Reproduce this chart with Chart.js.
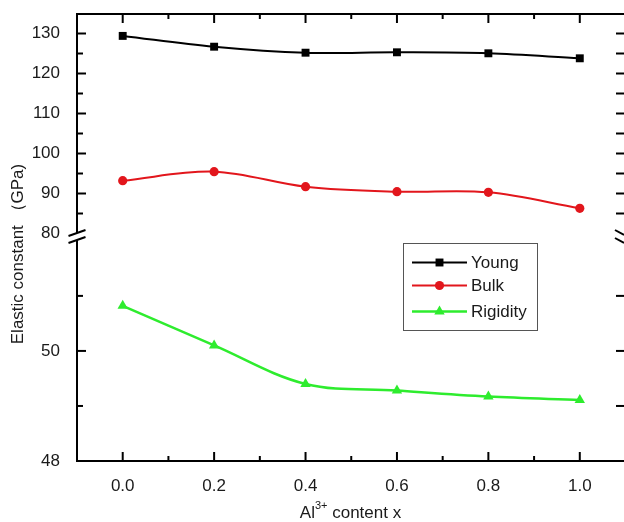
<!DOCTYPE html>
<html>
<head>
<meta charset="utf-8">
<script src="https://cdn.jsdelivr.net/npm/chart.js@4"></script>
<style>
  html, body { margin: 0; padding: 0; background: #fff; }
  #wrap { position: relative; width: 624px; height: 522px; }
</style>
</head>
<body>
<div id="wrap"><canvas id="chart" width="624" height="522"></canvas></div>
<script>
// values
const xValues  = [0.0, 0.2, 0.4, 0.6, 0.8, 1.0];
const young    = [129.4, 126.7, 125.2, 125.3, 125.05, 123.8];
const bulk     = [93.2, 95.45, 91.7, 90.45, 90.3, 86.3];
const rigidity = [50.82, 50.1, 49.4, 49.28, 49.17, 49.11];
const seriesNames = ['Young', 'Bulk', 'Rigidity'];

// axis ticks (upper part 80-135, lower part 48-52, broken in between)
const xTicks       = [0.0, 0.2, 0.4, 0.6, 0.8, 1.0];
const xMinorTicks  = [0.1, 0.3, 0.5, 0.7, 0.9];
const upperTicks   = [80, 90, 100, 110, 120, 130];
const upperMinor   = [85, 95, 105, 115, 125];
const lowerTicks   = [48, 50];
const lowerMinor   = [49, 51];

const FONT = '"Liberation Sans", Arial, Helvetica, sans-serif';
const TEXT = '#1a1a1a';
const COLORS = ['#000000', '#e2161c', '#2eec2e'];
const STYLES = ['rect', 'circle', 'triangle'];
const RADII = [5.6, 4.6, 6];

const toPoints = ys => xValues.map((x, i) => ({ x, y: ys[i] }));

function marker(ctx, style, x, y, r, color) {
  ctx.fillStyle = color;
  ctx.beginPath();
  if (style === 'rect') {
    const s = r * Math.SQRT1_2;
    ctx.rect(x - s, y - s, 2 * s, 2 * s);
  } else if (style === 'circle') {
    ctx.arc(x, y, r, 0, Math.PI * 2);
  } else {
    ctx.moveTo(x, y - r);
    ctx.lineTo(x + r * Math.sin(Math.PI * 2 / 3), y + r / 2);
    ctx.lineTo(x - r * Math.sin(Math.PI * 2 / 3), y + r / 2);
    ctx.closePath();
  }
  ctx.fill();
}

// no extra label margins, the plot box is fixed
function noPad(s) {
  s.paddingTop = 0; s.paddingBottom = 0; s.paddingLeft = 0; s.paddingRight = 0;
}

const framePlugin = {
  id: 'frame',
  afterDraw(chart) {
    const { ctx, chartArea: a, scales } = chart;
    const xs = scales.x, hi = scales.yHigh, lo = scales.yLow;
    const right = chart.width;
    const line = (x1, y1, x2, y2) => { ctx.beginPath(); ctx.moveTo(x1, y1); ctx.lineTo(x2, y2); ctx.stroke(); };
    ctx.save();
    ctx.strokeStyle = '#000';
    ctx.lineWidth = 2;

    // break position on the left axis
    const b1 = lo.top - 4, b2 = lo.top + 3;
    line(a.left, a.top, a.left, b1);
    line(a.left, b2, a.left, a.bottom + 1);
    line(a.left - 1, a.top, right, a.top);
    line(a.left - 1, a.bottom, right, a.bottom);

    // x ticks, bottom and top, pointing inward
    xTicks.forEach(v => {
      const px = xs.getPixelForValue(v);
      line(px, a.bottom, px, a.bottom - 9);
      line(px, a.top, px, a.top + 9);
    });
    xMinorTicks.forEach(v => {
      const px = xs.getPixelForValue(v);
      line(px, a.bottom, px, a.bottom - 5);
      line(px, a.top, px, a.top + 5);
    });

    // left ticks
    upperTicks.filter(v => v > 80).forEach(v => { const py = hi.getPixelForValue(v); line(a.left, py, a.left + 9, py); });
    upperMinor.forEach(v => { const py = hi.getPixelForValue(v); line(a.left, py, a.left + 6, py); });
    lowerTicks.filter(v => v > 48).forEach(v => { const py = lo.getPixelForValue(v); line(a.left, py, a.left + 9, py); });
    lowerMinor.forEach(v => { const py = lo.getPixelForValue(v); line(a.left, py, a.left + 6, py); });

    // right ticks (frame edge is just outside the picture)
    [...upperTicks.filter(v => v > 80), ...upperMinor].forEach(v => { const py = hi.getPixelForValue(v); line(right - 8, py, right, py); });
    [...lowerTicks.filter(v => v > 48), ...lowerMinor].forEach(v => { const py = lo.getPixelForValue(v); line(right - 8, py, right, py); });

    // break marks
    line(a.left - 8.5, b1 + 3, a.left + 8.5, b1 - 3);
    line(a.left - 8.5, b2 + 3, a.left + 8.5, b2 - 3);
    line(right - 9, b1 - 3, right, b1 + 2);
    line(right - 9, b2 - 2, right, b2 + 3);

    // axis titles
    ctx.fillStyle = TEXT;
    ctx.textBaseline = 'alphabetic';
    const cx = (a.left + right) / 2;
    ctx.font = '17px ' + FONT;
    const wAl = ctx.measureText('Al').width;
    const wRest = ctx.measureText(' content x').width;
    ctx.font = '11px ' + FONT;
    const wSup = ctx.measureText('3+').width;
    const tx = cx - (wAl + wSup + wRest) / 2;
    const ty = 518;
    ctx.textAlign = 'left';
    ctx.font = '17px ' + FONT;
    ctx.fillText('Al', tx, ty);
    ctx.font = '11px ' + FONT;
    ctx.fillText('3+', tx + wAl, ty - 9);
    ctx.font = '17px ' + FONT;
    ctx.fillText(' content x', tx + wAl + wSup, ty);

    ctx.save();
    ctx.translate(18, 254);
    ctx.rotate(-Math.PI / 2);
    ctx.textAlign = 'center';
    ctx.textBaseline = 'middle';
    ctx.font = '17px ' + FONT;
    ctx.fillText('Elastic constant （GPa)', 0, 0);
    ctx.restore();

    // legend box
    const lx = 403, ly = 243, lw = 134, lh = 87;
    ctx.lineWidth = 1;
    ctx.strokeStyle = '#555';
    ctx.fillStyle = '#fff';
    ctx.fillRect(lx, ly, lw, lh);
    ctx.strokeRect(lx + 0.5, ly + 0.5, lw, lh);
    const rows = [262.5, 285.5, 311.5];
    seriesNames.forEach((name, i) => {
      const y = rows[i];
      ctx.strokeStyle = COLORS[i];
      ctx.lineWidth = i === 2 ? 2.5 : 2;
      line(412, y, 467, y);
      marker(ctx, STYLES[i], 439.5, y, RADII[i], COLORS[i]);
      ctx.fillStyle = TEXT;
      ctx.font = '17px ' + FONT;
      ctx.textAlign = 'left';
      ctx.textBaseline = 'middle';
      ctx.fillText(name, 471, y + 1);
    });
    ctx.restore();
  }
};

const tickFont = { family: FONT, size: 17 };

new Chart(document.getElementById('chart'), {
  type: 'line',
  data: {
    datasets: [
      { label: seriesNames[0], data: toPoints(young), yAxisID: 'yHigh', borderColor: COLORS[0], backgroundColor: COLORS[0],
        borderWidth: 2, pointStyle: STYLES[0], pointRadius: RADII[0], pointBorderWidth: 0, tension: 0.35 },
      { label: seriesNames[1], data: toPoints(bulk), yAxisID: 'yHigh', borderColor: COLORS[1], backgroundColor: COLORS[1],
        borderWidth: 2, pointStyle: STYLES[1], pointRadius: RADII[1], pointBorderWidth: 0, tension: 0.35 },
      { label: seriesNames[2], data: toPoints(rigidity), yAxisID: 'yLow', borderColor: COLORS[2], backgroundColor: COLORS[2],
        borderWidth: 2.5, pointStyle: STYLES[2], pointRadius: RADII[2], pointBorderWidth: 0, tension: 0.35 },
    ]
  },
  options: {
    responsive: false,
    animation: false,
    devicePixelRatio: 1,
    layout: { padding: { top: 14, right: 0, left: 0, bottom: 0 } },
    plugins: { legend: { display: false }, tooltip: { enabled: false } },
    scales: {
      x: {
        type: 'linear', min: -0.1, max: 1.0836,
        afterBuildTicks: s => { s.ticks = xTicks.map(v => ({ value: v })); },
        afterFit: s => { s.height = 61; noPad(s); },
        ticks: { font: tickFont, color: TEXT, padding: 7, maxRotation: 0, callback: v => Number(v).toFixed(1) },
        grid: { display: false },
        border: { display: false }
      },
      yLow: {
        type: 'linear', position: 'left', stack: 'y', stackWeight: 224, min: 48, max: 52.07,
        afterBuildTicks: s => { s.ticks = lowerTicks.map(v => ({ value: v })); },
        afterFit: s => { s.width = 77; noPad(s); },
        ticks: { font: tickFont, color: TEXT, padding: 9 },
        grid: { display: false },
        border: { display: false }
      },
      yHigh: {
        type: 'linear', position: 'left', stack: 'y', stackWeight: 223, min: 79.125, max: 134.875,
        afterBuildTicks: s => { s.ticks = upperTicks.map(v => ({ value: v })); },
        afterFit: s => { s.width = 77; noPad(s); },
        ticks: { font: tickFont, color: TEXT, padding: 9 },
        grid: { display: false },
        border: { display: false }
      }
    }
  },
  plugins: [framePlugin]
});
</script>
</body>
</html>
